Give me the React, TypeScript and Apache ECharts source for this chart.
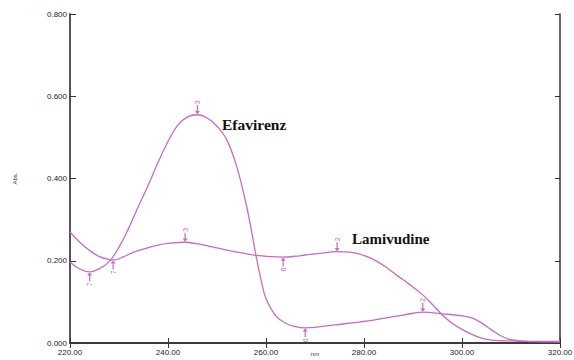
import React, { useEffect, useRef } from "react";
import * as echarts from "echarts";

const efavirenzWl = [220, 222, 224, 226, 228, 230, 232, 234, 236, 238, 240, 242, 244, 246, 248, 250, 252, 254, 256, 257, 258, 259, 260, 262, 264, 266, 268, 270, 274, 279, 284, 288, 292, 296, 300, 302, 304, 306, 308, 310, 313, 316, 320];
const efavirenzAbs = [0.197, 0.18, 0.173, 0.181, 0.198, 0.233, 0.28, 0.333, 0.385, 0.44, 0.49, 0.53, 0.55, 0.555, 0.547, 0.527, 0.494, 0.43, 0.335, 0.275, 0.21, 0.153, 0.108, 0.066, 0.048, 0.04, 0.037, 0.038, 0.044, 0.051, 0.06, 0.068, 0.075, 0.071, 0.066, 0.061, 0.049, 0.032, 0.017, 0.008, 0.004, 0.003, 0.002];

const lamivudineWl = [220, 222, 224, 226, 228, 229, 231, 233, 236, 238, 240, 243.5, 246, 249, 252, 255, 258, 261, 263.5, 266, 268, 271, 274.5, 277, 279, 281, 283, 285, 287, 289, 292, 294, 296, 298, 300, 302, 304, 306, 310, 315, 320];
const lamivudineAbs = [0.27, 0.245, 0.225, 0.21, 0.203, 0.202, 0.21, 0.221, 0.232, 0.238, 0.242, 0.245, 0.241, 0.234, 0.226, 0.219, 0.213, 0.21, 0.209, 0.211, 0.214, 0.218, 0.222, 0.221, 0.217, 0.208, 0.196, 0.18, 0.162, 0.145, 0.117, 0.093, 0.068, 0.048, 0.033, 0.021, 0.012, 0.007, 0.005, 0.004, 0.004];

// markers: [wavelength, abs, label, type]
const efavirenzMarks: [number, number, string, string][] = [
  [224, 0.173, "7", "valley"],
  [246, 0.555, "3", "peak"],
  [268, 0.037, "6", "valley"],
  [292, 0.075, "2", "peak"],
];
const lamivudineMarks: [number, number, string, string][] = [
  [228.8, 0.202, "7", "valley"],
  [243.5, 0.245, "3", "peak"],
  [263.5, 0.209, "6", "valley"],
  [274.5, 0.222, "2", "peak"],
];

const xTicks = [220, 240, 260, 280, 300, 320];
const yTicks = [0, 0.2, 0.4, 0.6, 0.8];

const LINE = "#c46cc2";
const AXIS = "#555555";

const downArrow = "path://M4.4,0 H5.6 V6.5 H7.5 L5,10 L2.5,6.5 H4.4 Z";
const upArrow = "path://M5,0 L7.5,3.5 H5.6 V10 H4.4 V3.5 H2.5 Z";

function marks(list: [number, number, string, string][]) {
  return list.map(([x, y, t, k]) => ({
    coord: [x, y],
    symbol: k === "peak" ? downArrow : upArrow,
    symbolSize: [5, 9],
    symbolOffset: [0, k === "peak" ? -5 : 5],
    itemStyle: { color: LINE },
    label: {
      show: true,
      formatter: t,
      position: k === "peak" ? "top" : "bottom",
      distance: 1,
      rotate: 90,
      color: LINE,
      fontSize: 7,
      fontFamily: "Liberation Sans",
      align: k === "peak" ? "left" : "right",
      verticalAlign: "middle",
    },
  }));
}

function pairs(xs: number[], ys: number[]) {
  return xs.map((x, i) => [x, ys[i]]);
}

export default function App() {
  const ref = useRef<HTMLDivElement>(null);
  useEffect(() => {
    if (!ref.current) return;
    const chart = echarts.init(ref.current, undefined, { renderer: "svg" });
    const labelStyle = { fontSize: 8, color: "#222", fontFamily: "Liberation Sans" };
    chart.setOption({
      animation: false,
      backgroundColor: "#ffffff",
      grid: { left: 70, right: 14, top: 14, bottom: 17, containLabel: false, outerBoundsMode: "none" },
      xAxis: [
        {
          type: "value",
          min: xTicks[0],
          max: xTicks[xTicks.length - 1],
          interval: 20,
          name: "nm",
          nameLocation: "middle",
          nameGap: 8,
          nameMoveOverlap: false,
          nameTextStyle: { fontSize: 6, color: "#333", fontFamily: "Liberation Sans" },
          axisLine: { show: true, lineStyle: { color: AXIS, width: 2 } },
          axisTick: { show: true, inside: true, length: 5, lineStyle: { color: "#333", width: 1 } },
          axisLabel: { ...labelStyle, margin: 5, formatter: (v: number) => v.toFixed(2) },
          splitLine: { show: false },
        },
        {
          type: "value",
          position: "top",
          min: xTicks[0],
          max: xTicks[xTicks.length - 1],
          interval: 20,
          axisLine: { show: true, lineStyle: { color: "#333", width: 1.5 } },
          axisTick: { show: true, inside: true, length: 5, lineStyle: { color: "#333", width: 1 } },
          axisLabel: { show: false },
          splitLine: { show: false },
        },
      ],
      yAxis: [
        {
          type: "value",
          min: yTicks[0],
          max: yTicks[yTicks.length - 1],
          interval: 0.2,
          name: "Abs.",
          nameLocation: "middle",
          nameGap: 52,
          nameRotate: 90,
          nameMoveOverlap: false,
          nameTextStyle: { fontSize: 6, color: "#333", fontFamily: "Liberation Sans" },
          axisLine: { show: true, lineStyle: { color: AXIS, width: 2 } },
          axisTick: { show: true, inside: true, length: 6, lineStyle: { color: "#333", width: 1 } },
          axisLabel: { ...labelStyle, margin: 3, formatter: (v: number) => v.toFixed(3) },
          splitLine: { show: false },
        },
        {
          type: "value",
          position: "right",
          min: yTicks[0],
          max: yTicks[yTicks.length - 1],
          interval: 0.2,
          axisLine: { show: true, lineStyle: { color: "#333", width: 1.5 } },
          axisTick: { show: true, inside: true, length: 5, lineStyle: { color: "#333", width: 1 } },
          axisLabel: { show: false },
          splitLine: { show: false },
        },
      ],
      series: [
        {
          name: "Efavirenz",
          type: "line",
          smooth: 0.4,
          symbol: "none",
          lineStyle: { color: LINE, width: 1.3 },
          data: pairs(efavirenzWl, efavirenzAbs),
          markPoint: { data: marks(efavirenzMarks) },
        },
        {
          name: "Lamivudine",
          type: "line",
          smooth: 0.4,
          symbol: "none",
          lineStyle: { color: LINE, width: 1.3 },
          data: pairs(lamivudineWl, lamivudineAbs),
          markPoint: { data: marks(lamivudineMarks) },
        },
      ],
      graphic: [
        {
          type: "text",
          left: 222,
          top: 116,
          style: { text: "Efavirenz", font: "bold 15.5px 'Liberation Serif'", fill: "#111" },
        },
        {
          type: "text",
          left: 352,
          top: 231,
          style: { text: "Lamivudine", font: "bold 15px 'Liberation Serif'", fill: "#111" },
        },
      ],
    });
    return () => chart.dispose();
  }, []);
  return (
    <div
      ref={ref}
      style={{ position: "fixed", left: 0, top: 0, width: 574, height: 360, background: "#fff" }}
    />
  );
}
